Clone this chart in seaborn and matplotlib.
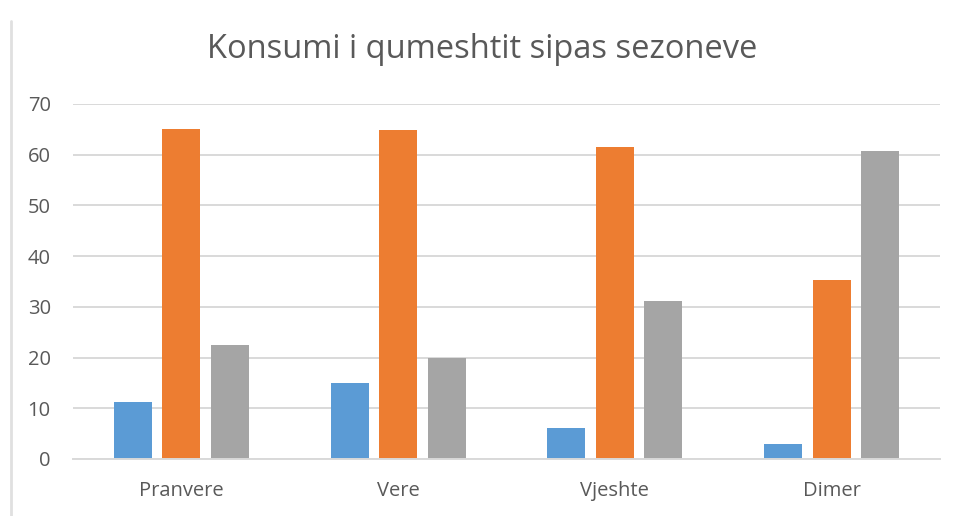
import matplotlib.pyplot as plt
import pandas as pd
import seaborn as sns
from matplotlib.lines import Line2D

# Values
seasons = ["Pranvere", "Vere", "Vjeshte", "Dimer"]
series_names = ["Seria 1", "Seria 2", "Seria 3"]
series_1 = [11.3, 15.0, 6.2, 2.9]
series_2 = [65.1, 64.8, 61.6, 35.2]
series_3 = [22.5, 19.9, 31.2, 60.8]
colors = ["#5B9BD5", "#ED7D31", "#A5A5A5"]

df = pd.DataFrame({
    "Sezoni": seasons * 3,
    "Seria": [series_names[0]] * 4 + [series_names[1]] * 4 + [series_names[2]] * 4,
    "Vlera": series_1 + series_2 + series_3,
})

sns.set_theme(style="white")
plt.rcParams["font.family"] = ["Open Sans", "DejaVu Sans"]

fig = plt.figure(figsize=(9.64, 5.16), dpi=100)
ax = fig.add_axes([0.0757, 0.1105, 0.8993, 0.688])

sns.barplot(
    data=df, x="Sezoni", y="Vlera", hue="Seria",
    palette=colors, width=0.671, gap=0.216,
    legend=False, ax=ax, saturation=1, linewidth=0,
)

ax.set_ylim(0, 70)
ax.set_yticks(range(0, 71, 10))
ax.set_xlim(-0.5, 3.5)
ax.yaxis.grid(True, color="#D9D9D9", linewidth=1.4)
ax.set_axisbelow(True)
for side in ["left", "right", "top"]:
    ax.spines[side].set_visible(False)
ax.spines["bottom"].set_color("#D9D9D9")
ax.spines["bottom"].set_linewidth(1.4)
ax.tick_params(axis="both", length=0, labelsize=14.5, labelcolor="#595959")
ax.tick_params(axis="y", pad=16)
ax.tick_params(axis="x", pad=16)
ax.set_xlabel("")
ax.set_ylabel("")

fig.text(0.5, 1 - 58 / 516, "Konsumi i qumeshtit sipas sezoneve",
         ha="center", va="baseline", fontsize=23.5, color="#595959")

# thin frame line on the left edge like the source screenshot
fig.add_artist(Line2D([0.011, 0.011], [0.0, 0.96], color="#E0E0E0", linewidth=2))

fig.savefig("out.png", dpi=100, facecolor="white")
